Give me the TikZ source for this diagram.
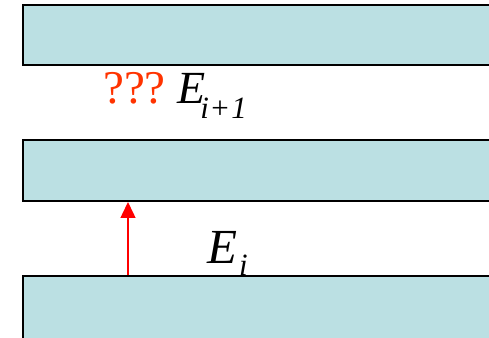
\documentclass[tikz,border=0pt]{standalone}
\usepackage{fontspec}
\setmainfont{Liberation Serif}
\usetikzlibrary{arrows.meta}
\definecolor{slab}{RGB}{187,224,227}
\definecolor{qred}{RGB}{255,51,0}
\tikzset{
  slabbox/.style={draw=black, line width=2pt, fill=slab, rectangle, anchor=south west, inner sep=0pt, minimum width=520pt},
  lbl/.style={anchor=base west, inner sep=0pt, font=\itshape},
  jump/.style={draw=red, line width=1.5pt, -{Triangle[width=15pt,length=16pt]}}
}
\begin{document}
\begin{tikzpicture}[x=1pt,y=1pt]
\clip (0,0) rectangle (489,337);
\fill[white] (0,0) rectangle (489,337);
\node[slabbox, minimum height=60pt] (top) at (22,271) {};
\node[slabbox, minimum height=60.5pt] (mid) at (22,135) {};
\node[slabbox, minimum height=90pt] (bot) at (22,-30) {};
\node[lbl, text=qred, font=\fontsize{47}{50}\selectfont] (q) at (103,233.3) {???};
\node[lbl, font=\fontsize{46}{50}\selectfont\itshape] (eup) at (177,233.3) {E\kern-5pt\raisebox{-15pt}{\fontsize{31}{31}\selectfont i\kern0.5pt+\kern1pt1}};
\node[lbl, font=\fontsize{49}{52}\selectfont\itshape] (elo) at (207,74) {E\kern2pt\raisebox{-12pt}{\fontsize{31}{31}\selectfont i}};
\coordinate (a0) at (128,0);
\draw[jump] (bot.north west -| a0) -- (mid.south west -| a0);
\end{tikzpicture}
\end{document}
